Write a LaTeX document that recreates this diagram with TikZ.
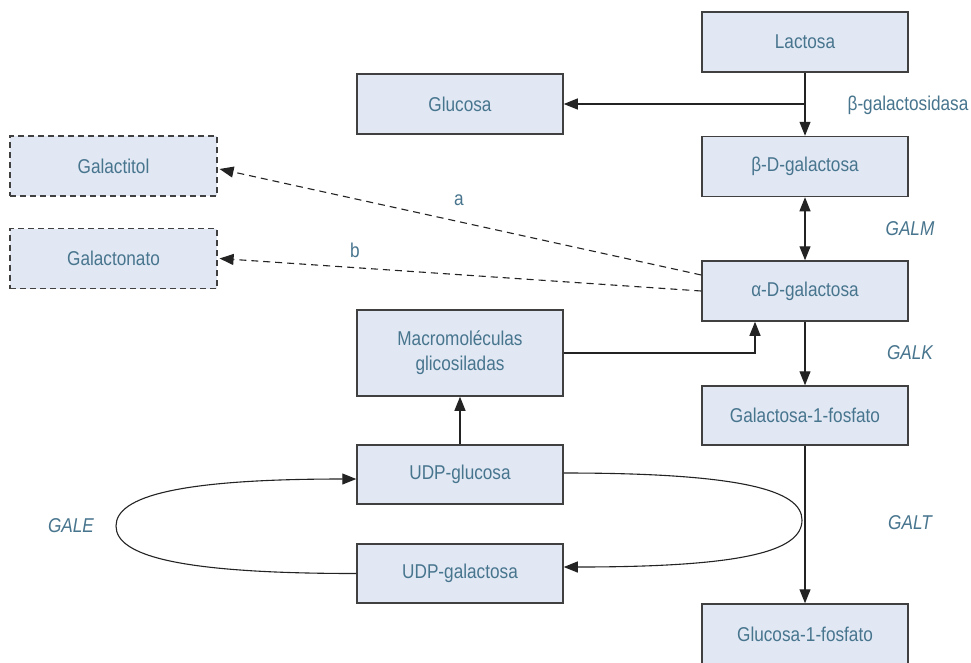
\documentclass[tikz,border=0pt]{standalone}
\usepackage{fontspec}
\setmainfont{Liberation Sans}[FakeStretch=0.86]
\usetikzlibrary{arrows.meta,calc}
\definecolor{txt}{RGB}{72,117,142}
\definecolor{boxfill}{RGB}{225,232,244}
\definecolor{edge}{RGB}{64,64,64}
\definecolor{ln}{RGB}{35,35,35}
\begin{document}
\begin{tikzpicture}[x=1pt,y=-1pt,
  box/.style={draw=edge,line width=1.5pt,fill=boxfill,minimum width=206pt,minimum height=60pt,inner sep=0pt,text=txt,font=\fontsize{20}{25}\selectfont,align=center},
  dbox/.style={box,dash pattern=on 6pt off 4pt,line width=1.2pt},
  lbl/.style={text=txt,font=\fontsize{20}{24}\selectfont,inner sep=0pt},
  ilbl/.style={text=txt,font=\fontsize{20}{24}\selectfont\itshape,inner sep=0pt},
  conn/.style={draw=ln,line width=1.1pt,-{Triangle[length=14pt,width=11pt]}},
  bconn/.style={draw=ln,line width=1.1pt,{Triangle[length=14pt,width=11pt]}-{Triangle[length=14pt,width=11pt]}},
  dconn/.style={conn,dash pattern=on 7pt off 5pt}
]
\path[use as bounding box] (0,0) rectangle (971,662);
\clip (0,0) rectangle (971,662);
\fill[white] (0,0) rectangle (971,662);

\node[box] (lact) at (805,42) {Lactosa};
\node[box] (gluc) at (460,104) {Glucosa};
\node[box] (beta) at (805,166.5) {β-D-galactosa};
\node[box] (alpha) at (805,291) {α-D-galactosa};
\node[dbox,minimum width=207pt] (galtol) at (113.5,166) {Galactitol};
\node[dbox,minimum width=207pt] (galton) at (113.5,258.5) {Galactonato};
\node[box,minimum height=86pt] (macro) at (460,353) {Macromoléculas\\glicosiladas};
\node[box,minimum height=59pt] (g1p) at (805,415.5) {Galactosa-1-fosfato};
\node[box,minimum height=59pt] (udpglc) at (460,474.5) {UDP-glucosa};
\node[box,minimum height=59pt] (udpgal) at (460,573.5) {UDP-galactosa};
\node[box] (glc1p) at (805,634) {Glucosa-1-fosfato};

\node[lbl] (bgal) at (908,105) {β-galactosidasa};
\node[ilbl] (galm) at (910,229) {GALM};
\node[ilbl] (galk) at (910,353) {GALK};
\node[ilbl] (galt) at (910,523) {GALT};
\node[ilbl] (gale) at (71,526) {GALE};
\node[lbl] (la) at (459,200) {a};
\node[lbl] (lb) at (355,250) {b};

\coordinate (br) at (lact.south |- gluc.east);
\coordinate (lturn) at (116,526);
\coordinate (rturn) at (802,520);

\draw[conn] (lact.south) -- (beta.north);
\draw[conn] (br) -- (gluc.east);
\draw[bconn] (beta.south) -- (alpha.north);
\draw[conn] (alpha.south) -- (g1p.north);
\draw[conn] (g1p.south) -- (glc1p.north);
\draw[conn] (macro.east) -| ($(alpha.south)+(-50,0)$);
\draw[conn] (udpglc.north) -- (macro.south);
\draw[dconn] ($(alpha.west)+(0,-16)$) -- ($(galtol.east)+(2,3)$);
\draw[dconn] (alpha.west) -- ($(galton.east)+(2,0)$);

\draw[conn] (udpgal.west) .. controls (180,573.5) and (116,556) .. (lturn) .. controls (116,496) and (180,479) .. ($(udpglc.west)+(0,4.5)$);
\draw[conn] ($(udpglc.east)+(0,-1.5)$) .. controls (740,473) and (802,490) .. (rturn) .. controls (802,552) and (740,567) .. ($(udpgal.east)+(0,-6.5)$);
\end{tikzpicture}
\end{document}
